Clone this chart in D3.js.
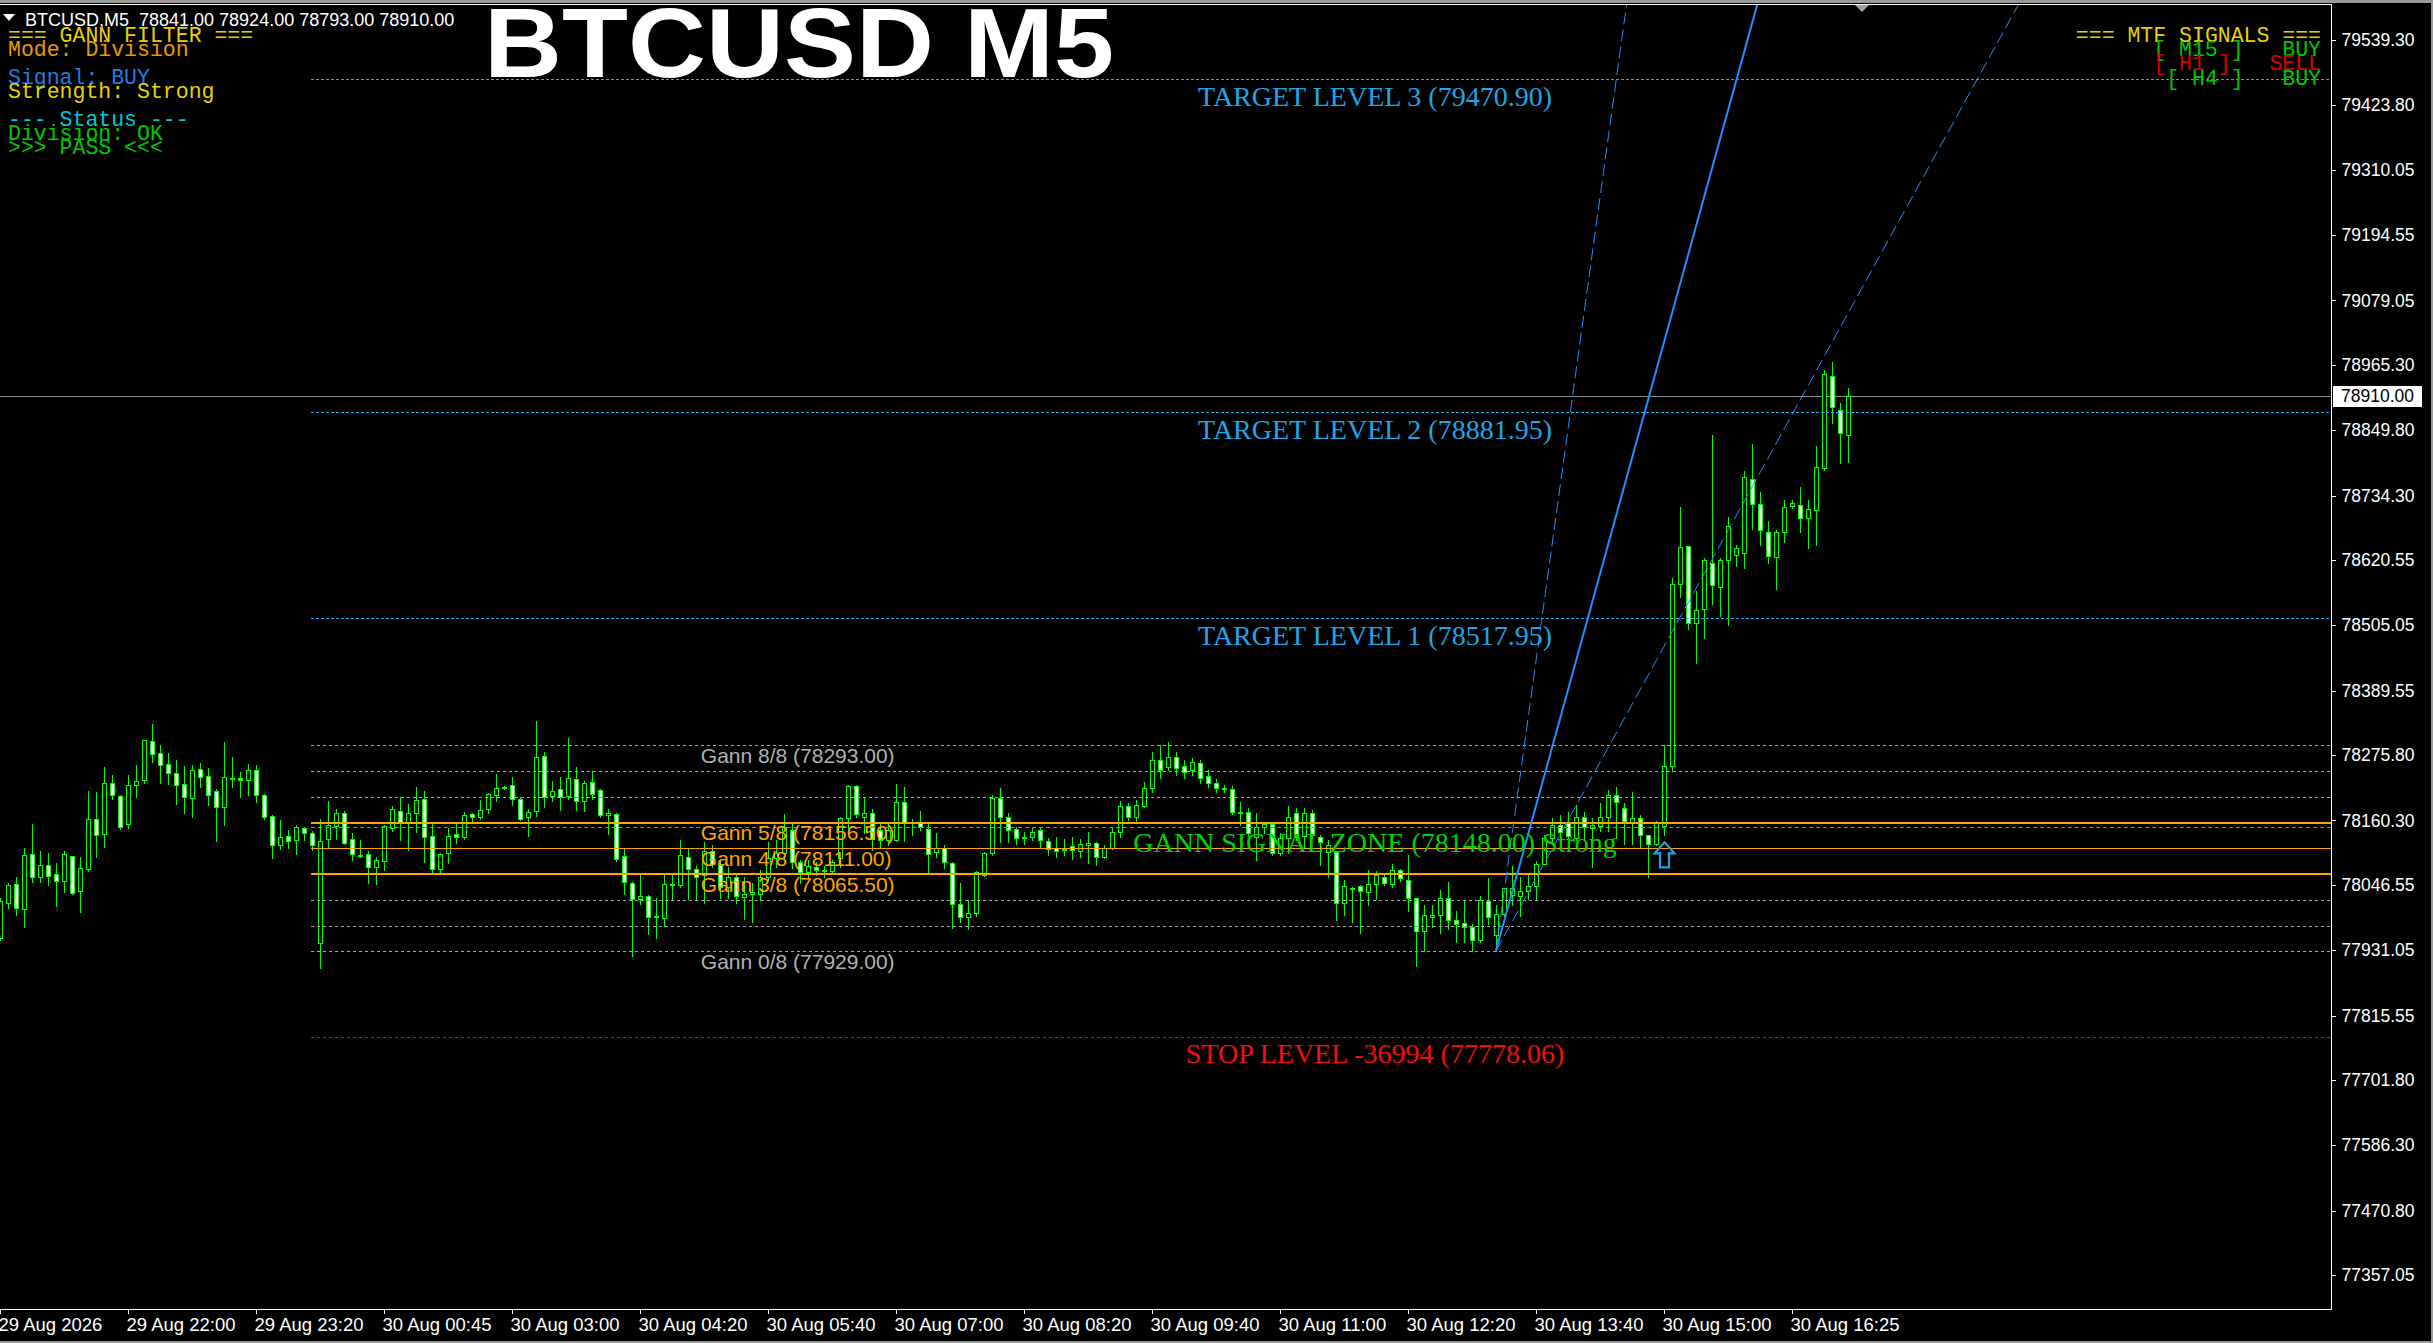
<!DOCTYPE html>
<html><head><meta charset="utf-8">
<script src="https://cdn.jsdelivr.net/npm/d3@7"></script>
<style>
html,body{margin:0;padding:0;background:#000;overflow:hidden;}
svg{display:block;}
text{white-space:pre;}
</style></head><body>
<svg id="chart" width="2433" height="1343"></svg>
<script>
// ---------------- DATA ----------------
const titleText = "BTCUSD M5";
const headerText = "BTCUSD,M5  78841.00 78924.00 78793.00 78910.00";

const priceTicks = [79539.30, 79423.80, 79310.05, 79194.55, 79079.05, 78965.30, 78849.80, 78734.30, 78620.55, 78505.05,
  78389.55, 78275.80, 78160.30, 78046.55, 77931.05, 77815.55, 77701.80, 77586.30, 77470.80, 77357.05];

const timeTickBars = [0, 16, 32, 48, 64, 80, 96, 112, 128, 144, 160, 176, 192, 208, 224];
const timeLabels = ["29 Aug 2026", "29 Aug 22:00", "29 Aug 23:20", "30 Aug 00:45", "30 Aug 03:00", "30 Aug 04:20",
  "30 Aug 05:40", "30 Aug 07:00", "30 Aug 08:20", "30 Aug 09:40", "30 Aug 11:00", "30 Aug 12:20", "30 Aug 13:40",
  "30 Aug 15:00", "30 Aug 16:25"];

const opens = [77952,78014,78048,78004,78101,78060,78082,78066,78053,78097,
78036,78074,78163,78136,78226,78204,78154,78223,78232,78301,
78280,78260,78244,78225,78200,78251,78239,78212,78184,78233,
78235,78232,78249,78205,78168,78117,78133,78126,78147,78138,
77944,78127,78150,78173,78127,78097,78101,78078,78089,78147,
78177,78156,78173,78198,78133,78074,78103,78136,78131,78172,
78166,78180,78205,78218,78223,78198,78166,78177,78274,78204,
78216,78204,78233,78195,78228,78214,78170,78172,78097,78050,
78021,78027,77990,77988,78046,78046,78096,78074,78064,78106,
78083,78043,78060,78025,78030,78030,78060,78094,78103,78143,
78087,78069,78078,78071,78071,78094,78164,78221,78166,78173,
78143,78126,78126,78193,78156,78156,78145,78104,78111,78085,
78012,77990,77997,78064,78103,78200,78166,78145,78129,78131,
78143,78124,78112,78108,78115,78106,78117,78120,78096,78112,
78140,78186,78166,78186,78218,78267,78255,78272,78257,78249,
78262,78239,78226,78216,78216,78173,78175,78131,78149,78154,
78103,78129,78173,78133,78173,78131,78104,78104,78014,78039,
78044,78034,78048,78060,78048,78073,78055,78023,77965,77990,
77993,78023,77984,77979,77972,77949,78018,77958,77995,78028,
78026,78036,78045,78084,78129,78152,78157,78130,78166,78147,
78151,78166,78206,78183,78156,78164,78134,78118,78151,78256,
78578,78645,78509,78534,78616,78573,78620,78630,78632,78763,
78720,78670,78626,78670,78716,78718,78695,78708,78783,78946,
78886,78841];

const highs = [78023,78050,78060,78112,78154,78106,78103,78085,78106,78098,
78096,78212,78211,78255,78241,78205,78241,78258,78303,78331,
78294,78280,78267,78257,78258,78262,78253,78216,78299,78272,
78246,78260,78258,78207,78169,78161,78143,78152,78149,78142,
78163,78195,78180,78177,78138,78126,78106,78096,78152,78186,
78202,78189,78219,78212,78157,78103,78147,78154,78175,78173,
78196,78209,78242,78221,78237,78202,78180,78336,78281,78230,
78237,78306,78255,78230,78248,78216,78180,78173,78110,78051,
78064,78028,78023,78067,78067,78126,78112,78080,78122,78117,
78090,78078,78066,78060,78050,78073,78122,78126,78172,78156,
78090,78090,78087,78080,78090,78166,78223,78223,78202,78180,
78157,78157,78225,78219,78163,78177,78154,78138,78117,78087,
78050,78020,78071,78104,78205,78218,78173,78149,78140,78147,
78149,78129,78131,78127,78131,78127,78140,78122,78117,78147,
78195,78191,78196,78228,78281,78294,78299,78281,78267,78271,
78267,78249,78233,78223,78221,78193,78182,78173,78157,78156,
78138,78186,78182,78182,78179,78135,78126,78106,78055,78043,
78046,78073,78071,78066,78083,78074,78099,78024,78011,78011,
78037,78051,78000,78020,77977,78027,78059,78011,78041,78080,
78060,78064,78088,78134,78165,78170,78175,78187,78176,78164,
78191,78214,78220,78191,78210,78170,78135,78160,78294,78589,
78714,78646,78566,78624,78842,78624,78697,78647,78777,78826,
78741,78689,78674,78727,78726,78750,78727,78822,78957,78970,
78898,78924];

const lows = [77949,78005,77993,77972,78051,78051,78046,78009,78034,78030,
77998,78071,78096,78113,78198,78145,78147,78202,78226,78264,
78226,78225,78189,78173,78166,78219,78188,78124,78152,78219,
78202,78205,78193,78163,78094,78110,78112,78101,78126,78108,
77899,78113,78127,78119,78090,78095,78050,78048,78073,78142,
78126,78108,78140,78087,78067,78069,78085,78120,78127,78159,
78163,78173,78195,78216,78188,78161,78133,78168,78184,78195,
78179,78198,78179,78177,78198,78166,78136,78089,78030,77921,
78012,77959,77952,77974,78020,78043,78021,78021,78014,78078,
78023,78023,78014,77986,77981,78020,78055,78078,78090,78076,
78050,78060,78064,78060,78067,78078,78143,78166,78138,78108,
78113,78117,78124,78124,78135,78143,78069,78096,78076,77970,
77981,77968,77992,78062,78099,78122,78122,78119,78119,78126,
78113,78099,78096,78099,78092,78096,78085,78082,78094,78110,
78131,78161,78156,78184,78211,78235,78249,78241,78235,78241,
78226,78219,78211,78211,78172,78152,78133,78090,78138,78099,
78099,78103,78126,78113,78129,78082,78060,77984,77993,77981,
77961,78011,78021,78046,78043,78053,78000,77903,77930,77972,
77961,77968,77946,77946,77930,77946,77977,77930,77984,78011,
77991,78022,78022,78083,78122,78129,78126,78126,78126,78078,
78141,78141,78130,78118,78118,78114,78061,78116,78134,78248,
78555,78498,78438,78482,78543,78522,78505,78609,78607,78675,
78647,78616,78570,78652,78712,78670,78641,78647,78779,78862,
78791,78793];

const closes = [78018,78046,78005,78099,78060,78082,78062,78053,78101,78032,
78076,78163,78135,78226,78205,78149,78223,78230,78302,78278,
78258,78244,78223,78202,78249,78237,78205,78184,78237,78235,
78232,78249,78205,78166,78117,78131,78124,78149,78138,78117,
78124,78152,78173,78120,78101,78099,78078,78090,78150,78180,
78156,78173,78196,78131,78074,78101,78133,78131,78170,78166,
78179,78207,78218,78219,78198,78163,78175,78272,78202,78212,
78202,78235,78195,78226,78207,78170,78173,78092,78051,78021,
78027,77990,77991,78048,78048,78099,78074,78060,78106,78083,
78043,78060,78027,78030,78034,78060,78094,78103,78149,78087,
78069,78080,78073,78073,78087,78164,78221,78172,78173,78127,
78126,78143,78193,78156,78157,78149,78101,78111,78087,78012,
77990,77997,78069,78103,78200,78166,78143,78129,78131,78140,
78126,78110,78106,78110,78108,78119,78120,78096,78112,78140,
78186,78166,78188,78218,78267,78249,78272,78253,78246,78264,
78235,78226,78218,78218,78175,78175,78138,78149,78154,78103,
78129,78166,78131,78173,78135,78122,78117,78014,78044,78041,
78036,78048,78064,78050,78073,78059,78023,77965,77993,77993,
78023,77984,77977,77972,77949,78020,77990,77995,78040,78040,
78036,78045,78084,78130,78152,78140,78133,78166,78149,78153,
78166,78206,78192,78160,78164,78134,78118,78156,78256,78578,
78643,78509,78532,78620,78576,78620,78680,78642,78768,78720,
78674,78628,78670,78714,78722,78695,78710,78785,78950,78890,
78845,78910];

const gannLevels = [77929.00, 77974.50, 78020.00, 78065.50, 78111.00, 78156.50, 78202.00, 78247.50, 78293.00];
const gannLabelSteps = [8, 5, 4, 3, 0];
const targetLevels = [78517.95, 78881.95, 79470.90];
const stopLevel = 77778.06;
const stopPoints = -36994;
const signalZone = 78148.00;
const signalStrength = "Strong";
const currentPrice = 78910.00;
const fanPivotBar = 187;
const fanPivotPrice = 77930;
const fanSlopes = [102.4, 51.2, 25.6];   // price per bar: 1x2, 1x1, 2x1
const signalArrowBar = 208;

const panelLines = ["=== GANN FILTER ===", "Mode: Division", "", "Signal: BUY", "Strength: Strong", "",
  "--- Status ---", "Division: OK", ">>> PASS <<<"];
const mtfTitle = "=== MTF SIGNALS ===";
const mtfFrames = ["M15", "H1", "H4"];
const mtfSignals = ["BUY", "SELL", "BUY"];

// ---------------- STYLES / LAYOUT ----------------
const W = 2433, H = 1343;
const P = {left: 0, right: 2331, top: 4, bottom: 1309};
const GREEN = "#00ff00";
const panelColors = ["#e6d200", "#e89a00", null, "#1e7fe0", "#e6d200", null, "#00c8d8", "#00c800", "#00c800"];
const sigColor = {BUY: "#00c800", SELL: "#d80000"};
const fmt2 = d3.format(".2f");

const svg = d3.select("#chart");
svg.append("rect").attr("width", W).attr("height", H).attr("fill", "#000");

const x = d3.scaleLinear().domain([0, 231]).range([0, 1848]);
const y = d3.scaleLinear().domain([77357.05, 79539.30]).range([1275, 40]);
const py = v => Math.round(y(v)) + 0.5;

svg.append("clipPath").attr("id", "plotClip").append("rect")
  .attr("x", P.left).attr("y", P.top).attr("width", P.right - P.left).attr("height", P.bottom - P.top);
const plot = svg.append("g").attr("clip-path", "url(#plotClip)");

// current price line
plot.append("line").attr("x1", P.left).attr("x2", P.right)
  .attr("y1", py(currentPrice)).attr("y2", py(currentPrice))
  .attr("stroke", "#8e8e8e").attr("stroke-width", 1).attr("shape-rendering", "crispEdges");

// candles
const candles = opens.map((o, i) => ({i, o, h: highs[i], l: lows[i], c: closes[i]}));
const cg = plot.append("g").attr("shape-rendering", "crispEdges");
candles.forEach(d => {
  const cx = Math.round(x(d.i)) + 0.5;
  cg.append("line").attr("x1", cx).attr("x2", cx)
    .attr("y1", Math.round(y(d.h))).attr("y2", Math.round(y(d.l)) + 1)
    .attr("stroke", GREEN).attr("stroke-width", 1);
  const yo = Math.round(y(d.o)), yc = Math.round(y(d.c));
  const top = Math.min(yo, yc), bot = Math.max(yo, yc);
  if (bot - top < 1) {
    cg.append("line").attr("x1", cx - 2.5).attr("x2", cx + 2.5)
      .attr("y1", top + 0.5).attr("y2", top + 0.5).attr("stroke", GREEN);
  } else {
    cg.append("rect").attr("x", cx - 2).attr("y", top + 0.5)
      .attr("width", 4).attr("height", bot - top)
      .attr("fill", d.c >= d.o ? "#000" : "#fff").attr("stroke", GREEN).attr("stroke-width", 1);
  }
});

// level lines
const lineStart = x(38.9);
const lg = plot.append("g").attr("shape-rendering", "crispEdges");
function hline(price, color, width, dash) {
  const yy = width === 2 ? Math.round(y(price)) : py(price);
  lg.append("line").attr("x1", lineStart).attr("x2", P.right).attr("y1", yy).attr("y2", yy)
    .attr("stroke", color).attr("stroke-width", width).attr("stroke-dasharray", dash || null);
}
gannLevels.forEach((lv, k) => {
  if (k === 3 || k === 5) hline(lv, "#ffa500", 2);
  else if (k === 4) hline(lv, "#ffa500", 1);
  else hline(lv, "#a8a8a8", 1, "3,3");
});
hline(signalZone, "#00e000", 1, "4,3");
targetLevels.forEach(lv => hline(lv, "#1ab0ee", 1, "3,2"));
hline(stopLevel, "#ff0000", 1, "3,3");

// Gann fan
const fanG = plot.append("g");
fanSlopes.forEach((s, k) => {
  const span = 80;
  fanG.append("line")
    .attr("x1", x(fanPivotBar)).attr("y1", y(fanPivotPrice))
    .attr("x2", x(fanPivotBar + span)).attr("y2", y(fanPivotPrice + s * span))
    .attr("stroke", "#1e90ff").attr("stroke-width", k === 1 ? 2 : 1)
    .attr("stroke-dasharray", k === 1 ? null : "12,5");
});

// Gann labels
const gl = plot.append("g").attr("font-family", "'Liberation Sans', Arial, sans-serif").attr("font-size", 21);
gannLabelSteps.forEach(step => {
  const lv = gannLevels[step];
  const orange = step >= 3 && step <= 5;
  gl.append("text").attr("x", x(87.6)).attr("y", y(lv) + 17.5)
    .attr("fill", orange ? "#ffa500" : "#b2b2b2")
    .text(`Gann ${step}/8 (${fmt2(lv)})`);
});

// Serif level labels
const cxLabel = x(172) - 1;
const sl = plot.append("g").attr("font-family", "'Liberation Serif', 'Times New Roman', serif")
  .attr("font-size", 28).attr("text-anchor", "middle");
targetLevels.forEach((lv, k) => {
  sl.append("text").attr("x", cxLabel).attr("y", y(lv) + 27).attr("fill", "#1fa6e8")
    .text(`TARGET LEVEL ${k + 1} (${fmt2(lv)})`);
});
sl.append("text").attr("x", cxLabel).attr("y", y(stopLevel) + 26).attr("fill", "#f01010")
  .text(`STOP LEVEL ${stopPoints} (${fmt2(stopLevel)})`);
sl.append("text").attr("x", cxLabel).attr("y", y(signalZone) + 25).attr("fill", "#00d400")
  .text(`GANN SIGNAL ZONE (${fmt2(signalZone)}) ${signalStrength}`);

// signal arrow (hollow up arrow below bar low)
{
  const ax = Math.round(x(signalArrowBar)) + 0.5;
  const ay = y(lows[signalArrowBar]) + 7;
  const p = [[ax, ay], [ax + 10, ay + 11], [ax + 4.5, ay + 11], [ax + 4.5, ay + 25],
             [ax - 4.5, ay + 25], [ax - 4.5, ay + 11], [ax - 10, ay + 11]];
  plot.append("path").attr("d", d3.line()(p) + "Z").attr("fill", "none")
    .attr("stroke", "#1ea0ea").attr("stroke-width", 2.2).attr("stroke-linejoin", "miter");
}

// frame
svg.append("rect").attr("x", 0).attr("y", 0).attr("width", W).attr("height", 3).attr("fill", "#9a9a9a");
svg.append("rect").attr("x", W - 2).attr("y", 0).attr("width", 2).attr("height", H).attr("fill", "#9a9a9a");
svg.append("rect").attr("x", 0).attr("y", H - 2).attr("width", W).attr("height", 2).attr("fill", "#9a9a9a");
const fr = svg.append("g").attr("stroke", "#ffffff").attr("stroke-width", 1).attr("shape-rendering", "crispEdges");
fr.append("line").attr("x1", 0).attr("x2", P.right + 0.5).attr("y1", P.top + 0.5).attr("y2", P.top + 0.5);
fr.append("line").attr("x1", P.right + 0.5).attr("x2", P.right + 0.5).attr("y1", P.top).attr("y2", P.bottom + 0.5);
fr.append("line").attr("x1", 0).attr("x2", P.right + 0.5).attr("y1", P.bottom + 0.5).attr("y2", P.bottom + 0.5);
// chart shift marker
svg.append("path").attr("d", "M1855,5 L1869,5 L1862,12 Z").attr("fill", "#a0a0a0");

// price axis
const yAxis = d3.axisRight(y).tickValues(priceTicks).tickFormat(fmt2).tickSize(4).tickPadding(6).tickSizeOuter(0);
const ya = svg.append("g").attr("transform", `translate(${P.right + 0.5},0)`).call(yAxis);
ya.select(".domain").remove();
ya.selectAll("line").attr("stroke", "#fff").attr("shape-rendering", "crispEdges");
ya.selectAll("text").attr("fill", "#fff").attr("font-size", 17.5)
  .attr("font-family", "'Liberation Sans', Arial, sans-serif");

// current price box
{
  const cy = y(currentPrice);
  svg.append("rect").attr("x", 2333).attr("y", Math.round(cy) - 10).attr("width", 89).attr("height", 21).attr("fill", "#fff");
  svg.append("text").attr("x", 2341).attr("y", cy).attr("dy", "0.34em").attr("fill", "#000")
    .attr("font-size", 17.5).attr("font-family", "'Liberation Sans', Arial, sans-serif").text(fmt2(currentPrice));
}

// time axis
const xAxis = d3.axisBottom(x).tickValues(timeTickBars).tickFormat((d, i) => timeLabels[i]).tickSize(4).tickSizeOuter(0);
const xa = svg.append("g").attr("transform", `translate(0,${P.bottom + 0.5})`).call(xAxis);
xa.select(".domain").remove();
xa.selectAll("line").attr("stroke", "#fff").attr("shape-rendering", "crispEdges");
xa.selectAll("text").attr("fill", "#fff").attr("font-size", 18.5)
  .attr("font-family", "'Liberation Sans', Arial, sans-serif")
  .attr("text-anchor", "start").attr("x", -2).attr("y", 21.5).attr("dy", 0);

// header
svg.append("path").attr("d", "M3,14 L15,14 L9,21 Z").attr("fill", "#fff");
svg.append("text").attr("x", 25).attr("y", 26).attr("fill", "#fff").attr("font-size", 18)
  .attr("font-family", "'Liberation Sans', Arial, sans-serif").text(headerText);

// big title
svg.append("text").attr("x", 484).attr("y", 77).attr("fill", "#fff")
  .attr("font-family", "'Liberation Sans', Arial, sans-serif").attr("font-weight", "bold")
  .attr("font-size", 98).attr("textLength", 630).attr("lengthAdjust", "spacingAndGlyphs").text(titleText);

// filter panel (top-left)
const mono = "'Liberation Mono', 'Courier New', monospace";
const pg = svg.append("g").attr("font-family", mono).attr("font-size", 21.5);
panelLines.forEach((t, k) => {
  if (!t) return;
  pg.append("text").attr("x", 8).attr("y", 41.7 + 14.05 * k).attr("fill", panelColors[k]).text(t);
});

// MTF panel (top-right)
const mg = svg.append("g").attr("font-family", mono).attr("font-size", 21.5).attr("text-anchor", "end");
mg.append("text").attr("x", 2321).attr("y", 42.3).attr("fill", "#e6d200").text(mtfTitle);
mtfFrames.forEach((f, k) => {
  mg.append("text").attr("x", 2321).attr("y", 56.3 + 14.1 * k).attr("fill", sigColor[mtfSignals[k]])
    .text(`[ ${f} ]   ${mtfSignals[k]}`);
});
</script>
</body></html>
